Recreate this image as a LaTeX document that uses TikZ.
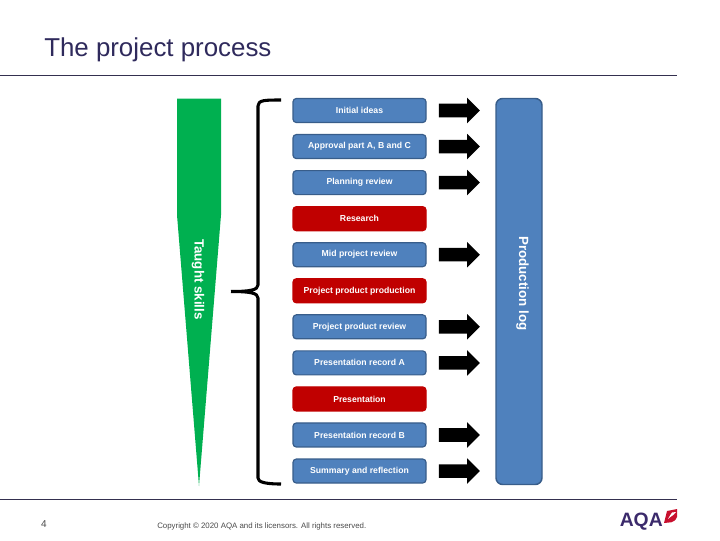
\documentclass[tikz,border=0pt]{standalone}
\usepackage{fontspec}
\setmainfont{Liberation Sans}
\usepackage{xcolor}
\usetikzlibrary{positioning,shapes.arrows}
\definecolor{stepblue}{HTML}{4F81BD}
\definecolor{stepedge}{HTML}{385D8A}
\definecolor{stepred}{HTML}{C00000}
\definecolor{taughtgreen}{HTML}{00B050}
\definecolor{rulegrey}{HTML}{34304F}
\definecolor{titlepurple}{HTML}{2F2A5C}
\definecolor{footgrey}{HTML}{4A4A4A}
\definecolor{aqapurple}{HTML}{3B2A6B}
\definecolor{aqared}{HTML}{C8102E}

\begin{document}
\begin{tikzpicture}[
    x=0.75pt, y=-0.75pt,
    node distance=8.14pt and 9pt,
    bluebox/.style={draw=stepedge, line width=0.9pt, fill=stepblue, rounded corners=2.5pt, text=white, font=\bfseries\fontsize{6.5}{7}\selectfont, minimum height=18pt, minimum width=99.75pt, inner sep=0pt},
    redbox/.style={bluebox, draw=stepred, fill=stepred},
    blockarrow/.style={single arrow, fill=black, inner sep=4.875pt, minimum height=30.75pt, single arrow head extend=4.5pt, single arrow head indent=0pt},
    ruleline/.style={draw=rulegrey, line width=0.75pt},
    sidetext/.style={rotate=-90, text=white, font=\bfseries\fontsize{10}{12}\selectfont, inner sep=0pt}
  ]
    \useasboundingbox (0,0) rectangle (720,540);
    \node[anchor=west, inner sep=0pt, text=titlepurple, font=\fontsize{19.4}{22}\selectfont] (title) at (44,50) {The project process};
    \coordinate (toprule a) at (0,75);
    \coordinate (toprule b) at (677,75);
    \draw[ruleline] (toprule a) -- (toprule b);

    \node[bluebox] (initial) at (359.5,110.5) {Initial ideas};
    \node[bluebox, below=of initial] (approval) {Approval part A, B and C};
    \node[bluebox, below=of approval] (planning) {Planning review};
    \node[redbox, below=of planning] (research) {Research};
    \node[bluebox, below=of research] (mid) {Mid project review};
    \node[redbox, below=of mid] (production) {Project product production};
    \node[bluebox, below=of production] (review) {Project product review};
    \node[bluebox, below=of review] (recorda) {Presentation record A};
    \node[redbox, below=of recorda] (presentation) {Presentation};
    \node[bluebox, below=of presentation] (recordb) {Presentation record B};
    \node[bluebox, below=of recordb] (summary) {Summary and reflection};

    \node[blockarrow, right=of initial] (arrow a) {};
    \node[blockarrow, right=of approval] (arrow b) {};
    \node[blockarrow, right=of planning] (arrow c) {};
    \node[blockarrow, right=of mid] (arrow d) {};
    \node[blockarrow, right=of review] (arrow e) {};
    \node[blockarrow, right=of recorda] (arrow f) {};
    \node[blockarrow, right=of recordb] (arrow g) {};
    \node[blockarrow, right=of summary] (arrow h) {};

    \draw[draw=stepedge, line width=1.1pt, fill=stepblue, rounded corners=5pt] (496,98.5) rectangle (542,484.5);
    \node[sidetext] (prodlog) at (522.5,283.5) {Production log};

    \fill[taughtgreen] (177,98.5) -- (221,98.5) -- (221,215) -- (199,486) -- (177,215) -- cycle;
    \node[sidetext] (taught) at (198,279.5) {Taught skills};

    \coordinate (brace top) at (281,100);
    \coordinate (brace tip) at (231,291.5);
    \coordinate (brace end) at (281,484);
    \draw[line width=2.3pt, line join=round] (brace top) .. controls (265,100) and (258,100) .. (258,106)
      -- (258,285) .. controls (258,290) and (250,291.5) .. (brace tip)
      (brace tip) .. controls (250,291.5) and (258,293) .. (258,298)
      -- (258,478) .. controls (258,482) and (265,484) .. (brace end);

    \coordinate (botrule a) at (0,499);
    \coordinate (botrule b) at (677,499);
    \draw[ruleline] (botrule a) -- (botrule b);
    \node[inner sep=0pt, text=footgrey, font=\fontsize{7.5}{9}\selectfont] (pagenum) at (44,524) {4};
    \node[anchor=west, inner sep=0pt, text=footgrey, font=\fontsize{5.9}{7}\selectfont] (copyright) at (157,526) {Copyright © 2020 AQA and its licensors. All rights reserved.};

    \node[anchor=east, inner sep=0pt, text=aqapurple, font=\bfseries\fontsize{14.5}{16}\selectfont] (aqa) at (663,522) {AQA};
    \fill[aqared] (667,511) -- (677,509) -- (677,517) .. controls (674,524) and (669,522) .. (664,523) -- cycle;
    \fill[white] (668,519) .. controls (671,516) and (673,516) .. (676,512) -- (672,512.5) .. controls (671,515) and (669,516) .. (668,519) -- cycle;
  \end{tikzpicture}
\end{document}
